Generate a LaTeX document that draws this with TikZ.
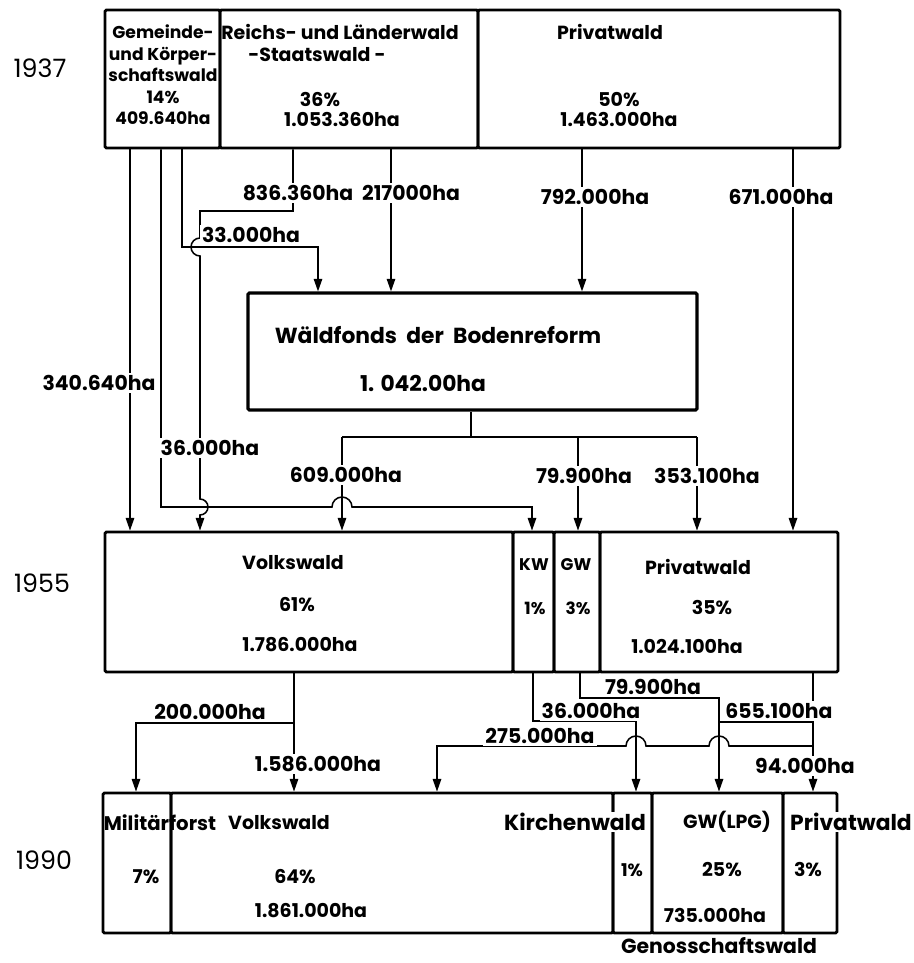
\documentclass[tikz,border=0pt]{standalone}
\usepackage{fontspec}
\setmainfont{Poppins}
\usetikzlibrary{arrows.meta,positioning,fit}

\begin{document}
\begin{tikzpicture}[x=0.025cm, y=-0.025cm, ->, >={Stealth[length=9pt,width=6pt,inset=0pt]}, line width=1.1pt, font=\bfseries\fontsize{13.5}{16}\selectfont]
	\tikzstyle{cell}=[draw, -, line width=2pt, inner sep=0pt, rounded corners=1pt]
	\tikzstyle{txt}=[inner sep=0pt, align=center]
	\tikzstyle{head}=[txt, font=\bfseries\fontsize{15.5}{18}\selectfont]
	\tikzstyle{amount}=[fill=white, inner sep=1.5pt, font=\bfseries\fontsize{14.5}{16}\selectfont]
	\tikzstyle{year}=[font=\fontsize{18}{20}\selectfont]
	\useasboundingbox (0,0) rectangle (914,963);

	% 1937
	\node[cell, fit={(105,10) (220,148)}]  (gem)    {};
	\node[cell, fit={(220,10) (478,148)}]  (reichs) {};
	\node[cell, fit={(478,10) (840,148)}]  (priv37) {};
	\node[txt, font=\bfseries\fontsize{12.2}{15.3}\selectfont] (gemtxt) at (163,75) {Gemeinde-\\und Körper-\\schaftswald\\14\%\\409.640ha};
	\node[txt] (reichstxt) at (340,32) {Reichs- und Länderwald};
	\node[txt] (staatstxt) at (317,55) {-Staatswald -};
	\node[txt] (reichspct) at (320,100) {36\%};
	\node[txt] (reichsha)  at (342,119) {1.053.360ha};
	\node[txt] (priv37txt) at (610,32) {Privatwald};
	\node[txt] (priv37pct) at (619,100) {50\%};
	\node[txt] (priv37ha)  at (619,119) {1.463.000ha};

	% Bodenreform
	\node[cell, line width=2.2pt, fit={(248,293) (697,410)}] (wf) {};
	\node[txt, font=\bfseries\fontsize{15.5}{18}\selectfont] (wftxt) at (438,335) {Wäldfonds~~der~~Bodenreform};
	\node[txt, font=\bfseries\fontsize{15.5}{18}\selectfont] (wfha)  at (423,383) {1. 042.00ha};

	% 1955
	\node[cell, fit={(105,532) (513,672)}] (vw55) {};
	\node[cell, fit={(513,532) (554,672)}] (kw55) {};
	\node[cell, fit={(554,532) (600,672)}] (gw55) {};
	\node[cell, fit={(600,532) (838,672)}] (pw55) {};
	\node[txt] (vw55txt) at (293,563) {Volkswald};
	\node[txt] (vw55pct) at (297,605) {61\%};
	\node[txt] (vw55ha)  at (300,645) {1.786.000ha};
	\node[txt, font=\bfseries\fontsize{12}{14}\selectfont] (kw55txt) at (534,565) {KW};
	\node[txt, font=\bfseries\fontsize{12}{14}\selectfont] (kw55pct) at (535,608) {1\%};
	\node[txt, font=\bfseries\fontsize{12}{14}\selectfont] (gw55txt) at (576,565) {GW};
	\node[txt, font=\bfseries\fontsize{12}{14}\selectfont] (gw55pct) at (578,608) {3\%};
	\node[txt] (pw55txt) at (698,567) {Privatwald};
	\node[txt] (pw55pct) at (712,608) {35\%};
	\node[txt] (pw55ha)  at (687,646) {1.024.100ha};

	% 1990
	\node[cell, fit={(103,793) (171,933)}] (mf90) {};
	\node[cell, fit={(171,793) (613,933)}] (vw90) {};
	\node[cell, fit={(613,793) (652,933)}] (kw90) {};
	\node[cell, fit={(652,793) (783,933)}] (gw90) {};
	\node[cell, fit={(783,793) (837,933)}] (pw90) {};
	\node[head, font=\bfseries\fontsize{14}{16}\selectfont] (mf90txt) at (160,823) {Militärforst};
	\node[txt]  (vw90txt) at (279,823) {Volkswald};
	\node[head, fill=white, inner sep=1pt] (kw90txt) at (575,822) {Kirchenwald};
	\node[txt]  (gw90txt) at (727,822) {GW(LPG)};
	\node[head, fill=white, inner sep=1pt] (pw90txt) at (851,822) {Privatwald};
	\node[txt] (mf90pct) at (146,877) {7\%};
	\node[txt] (vw90pct) at (295,877) {64\%};
	\node[txt] (vw90ha)  at (311,911) {1.861.000ha};
	\node[txt, font=\bfseries\fontsize{12.5}{14}\selectfont] (kw90pct) at (632,870) {1\%};
	\node[txt] (gw90pct) at (722,870) {25\%};
	\node[txt] (gw90ha)  at (715,915) {735.000ha};
	\node[txt] (pw90pct) at (808,870) {3\%};
	\node[head, font=\bfseries\fontsize{14.5}{16}\selectfont] (gwname) at (719,946) {Genosschaftswald};

	\node[year] (y37) at (40,68)  {1937};
	\node[year] (y55) at (42,583) {1955};
	\node[year] (y90) at (44,860) {1990};

	% 1937 -> Bodenreform / 1955
	\draw (gem.south -| 130,0) -- (vw55.north -| 130,0);
	\draw (gem.south -| 161,0) -- (161,507) -- (332,507) arc[start angle=180, end angle=360, radius=10] -- (532,507) -- (kw55.north -| 532,0);
	\draw (gem.south -| 182,0) -- (182,247) -- (318,247) -- (wf.north -| 318,0);
	\draw (reichs.south -| 293,0) -- (293,211) -- (200,211) -- (200,238) arc[start angle=270, end angle=90, radius=9] -- (200,499) arc[start angle=-90, end angle=90, radius=8] -- (vw55.north -| 200,0);
	\draw (reichs.south -| 391,0) -- (wf.north -| 391,0);
	\draw (priv37.south -| 582,0) -- (wf.north -| 582,0);
	\draw (priv37.south -| 793,0) -- (pw55.north -| 793,0);

	% Bodenreform -> 1955
	\draw[-] (wf.south -| 471,0) -- (471,437) coordinate (wfsplit);
	\draw[-] (342,437) -- (697,437);
	\draw (wfsplit -| 342,0) -- (vw55.north -| 342,0);
	\draw (wfsplit -| 578,0) -- (gw55.north -| 578,0);
	\draw (wfsplit -| 697,0) -- (pw55.north -| 697,0);

	% 1955 -> 1990
	\draw (vw55.south -| 294,0) -- (vw90.north -| 294,0);
	\draw (294,723) -- (136,723) -- (mf90.north -| 136,0);
	\draw (kw55.south -| 533,0) -- (533,721) -- (636,721) -- (kw90.north -| 636,0);
	\draw (gw55.south -| 580,0) -- (580,698) -- (719,698) -- (gw90.north -| 719,0);
	\draw[-] (pw55.south -| 813,0) -- (813,746);
	\draw[-] (813,722) -- (719,722);
	\draw (813,746) -- (729,746) arc[start angle=360, end angle=180, radius=10] -- (646,746) arc[start angle=360, end angle=180, radius=10] -- (437,746) -- (vw90.north -| 437,0);
	\draw (813,746) -- (pw90.north -| 813,0);

	% amounts
	\node[amount] (a1)  at (99,383)  {340.640ha};
	\node[amount] (a2)  at (298,193) {836.360ha};
	\node[amount] (a3)  at (411,193) {217000ha};
	\node[amount] (a4)  at (595,197) {792.000ha};
	\node[amount] (a5)  at (781,197) {671.000ha};
	\node[amount] (a6)  at (251,235) {33.000ha};
	\node[amount] (a7)  at (210,448) {36.000ha};
	\node[amount] (a8)  at (346,475) {609.000ha};
	\node[amount] (a9)  at (584,476) {79.900ha};
	\node[amount] (a10) at (707,476) {353.100ha};
	\node[amount] (a11) at (210,712) {200.000ha};
	\node[amount] (a12) at (318,764) {1.586.000ha};
	\node[amount] (a13) at (540,736) {275.000ha};
	\node[amount] (a14) at (591,711) {36.000ha};
	\node[amount] (a15) at (653,687) {79.900ha};
	\node[amount] (a16) at (779,711) {655.100ha};
	\node[amount] (a17) at (805,766) {94.000ha};
\end{tikzpicture}
\end{document}
